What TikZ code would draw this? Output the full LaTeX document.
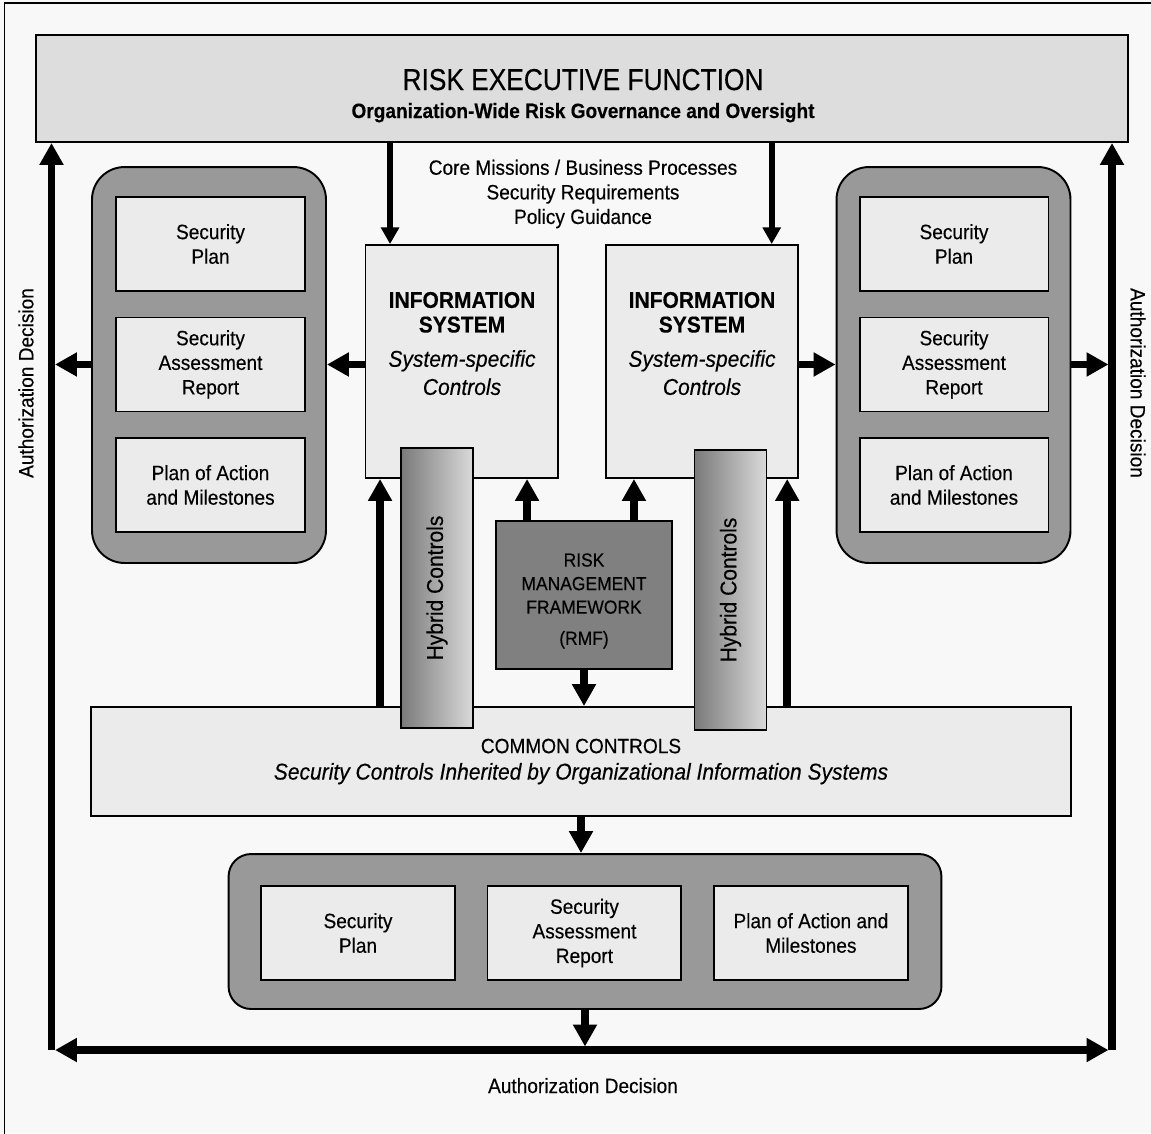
\documentclass[tikz,border=0pt]{standalone}
\usepackage{fontspec}
\setmainfont{Liberation Sans}[FakeStretch=0.92, FakeBold=0.3]
\newfontfamily\titleface{Liberation Sans}[FakeStretch=0.87, FakeBold=0.3]
\usepackage{tikz}
\usetikzlibrary{positioning}
\usetikzlibrary{arrows.meta}

\definecolor{pagebg}{HTML}{F8F8F8}
\definecolor{execgray}{HTML}{DDDDDD}
\definecolor{boxgray}{HTML}{EBEBEB}
\definecolor{groupgray}{HTML}{999999}
\definecolor{rmfgray}{HTML}{808080}
\definecolor{hybriddark}{HTML}{7A7A7A}
\definecolor{hybridlight}{HTML}{DADADA}

\newcommand{\fsTitle}{\titleface\fontsize{17.2}{19}\selectfont}
\newcommand{\fsText}{\fontsize{11.8}{14}\selectfont}
\newcommand{\fsHead}{\fontsize{13}{14}\selectfont}
\newcommand{\fsRmf}{\fontsize{10.8}{13.4}\selectfont}

\tikzset{
  panel/.style={draw=black, line width=1.1pt, fill=boxgray, inner sep=0pt},
  docbox/.style={panel, minimum width=3.78cm, minimum height=1.88cm, align=center, font=\fsText},
  groupbox/.style={draw=black, line width=1.1pt, fill=groupgray, rounded corners=0.65cm, inner sep=0pt},
  hybridbar/.style={draw=black, line width=1.1pt, left color=hybriddark, right color=hybridlight, minimum width=1.44cm, minimum height=5.6cm, inner sep=0pt, font=\fsHead},
  fatarrow/.style={line width=4.3pt, -{Triangle[width=13pt,length=12.5pt]}},
  fatboth/.style={line width=4.3pt, {Triangle[width=13pt,length=12.5pt]}-{Triangle[width=13pt,length=12.5pt]}},
  thinarrow/.style={line width=3.2pt, -{Triangle[width=10pt,length=9.5pt]}}
}

\begin{document}
\begin{tikzpicture}[x=0.02cm, y=-0.02cm, node distance=2.41cm, auto]
            \useasboundingbox (0,0) rectangle (1151,1133);
            \fill[pagebg] (0,0) rectangle (1151,1133);
            \draw[line width=0.8pt] (4.5,1140) -- (4.5,3) -- (1160,3);

            % top
            \node[panel, fill=execgray, minimum width=21.84cm, minimum height=2.14cm] (riskexec) at (582,88.5) {};
            \node[anchor=base, font=\fsTitle] (exectitle) at (583,90) {RISK EXECUTIVE FUNCTION};
            \node[anchor=base, font={\fsText\bfseries}] (execsub) at (583,118) {Organization-Wide Risk Governance and Oversight};
            \node[align=center, font=\fsText] (missions) at (583,194) {Core Missions / Business Processes\\Security Requirements\\Policy Guidance};

            % left and right groups
            \node[groupbox, minimum width=4.68cm, minimum height=7.92cm] (groupL) at (209,365) {};
            \node[docbox] (secplanL) at (210.5,244) {Security\\Plan};
            \node[docbox] (sarL) [below of=secplanL] {Security\\Assessment\\Report};
            \node[docbox] (poamL) [below of=sarL] {Plan of Action\\and Milestones};
            \node[groupbox, minimum width=4.68cm, minimum height=7.92cm] (groupR) at (953.5,365) {};
            \node[docbox] (secplanR) at (954,244) {Security\\Plan};
            \node[docbox] (sarR) [below of=secplanR] {Security\\Assessment\\Report};
            \node[docbox] (poamR) [below of=sarR] {Plan of Action\\and Milestones};

            % information systems
            \node[panel, minimum width=3.85cm, minimum height=4.66cm] (infoL) at (461.75,361.5) {};
            \node[align=center, font=\fsHead] (infoLtext) at (462,343.5) {{\bfseries INFORMATION}\\{\bfseries SYSTEM}\\[5.5pt]{\itshape System-specific}\\[2pt]{\itshape Controls}};
            \node[panel, minimum width=3.85cm, minimum height=4.66cm] (infoR) at (702,361.5) {};
            \node[align=center, font=\fsHead] (infoRtext) at (702,343.5) {{\bfseries INFORMATION}\\{\bfseries SYSTEM}\\[5.5pt]{\itshape System-specific}\\[2pt]{\itshape Controls}};

            % common controls and rmf
            \node[panel, minimum width=19.6cm, minimum height=2.18cm, align=center] (common) at (581,761.5) {{\fsText COMMON CONTROLS}\\[3pt]{\fontsize{13}{14}\selectfont\itshape Security Controls Inherited by Organizational Information Systems}};
            \node[panel, fill=rmfgray, minimum width=3.52cm, minimum height=2.96cm] (rmf) at (584,595) {};
            \node[align=center, font=\fsRmf] (rmftext) at (584,601) {RISK\\MANAGEMENT\\FRAMEWORK\\[4.3pt](RMF)};

            % bottom group
            \node[groupbox, rounded corners=0.45cm, minimum width=14.26cm, minimum height=3.1cm] (groupB) at (585,931.5) {};
            \node[docbox, minimum width=3.88cm] (secplanB) at (358,933) {Security\\Plan};
            \node[docbox, minimum width=3.88cm] (sarB) [right of=secplanB, node distance=4.53cm] {Security\\Assessment\\Report};
            \node[docbox, minimum width=3.88cm] (poamB) [right of=sarB, node distance=4.53cm] {Plan of Action and\\Milestones};

            % authorization decision
            \coordinate (cornerL) at (51.5,1050);
            \coordinate (cornerR) at (1112,1050);
            \node[rotate=90, font=\fsText] (authL) at (26,383) {Authorization Decision};
            \node[rotate=-90, font=\fsText] (authR) at (1138,383) {Authorization Decision};
            \node[anchor=base, font=\fsText] (authB) at (583,1093) {Authorization Decision};

            \coordinate (downL) at ([xshift=0.51cm]infoL.north west);
            \coordinate (downR) at ([xshift=-0.55cm]infoR.north east);
            \coordinate (rmfupL) at ([xshift=0.64cm]rmf.north west);
            \coordinate (rmfupR) at ([xshift=-0.78cm]rmf.north east);
            \coordinate (ccupL) at ([xshift=0.31cm]infoL.south west);
            \coordinate (ccupR) at ([xshift=-0.24cm]infoR.south east);

            \draw[thinarrow] (downL |- riskexec.south) -- (downL);
            \draw[thinarrow] (downR |- riskexec.south) -- (downR);
            \draw[fatarrow] (infoL.west |- sarL) -- (groupL.east |- sarL);
            \draw[fatarrow, shorten >=2pt] (groupL.west |- sarL) -- (cornerL |- sarL);
            \draw[fatarrow] (infoR.east |- sarR) -- (groupR.west |- sarR);
            \draw[fatarrow, shorten >=2pt] (groupR.east |- sarR) -- (cornerR |- sarR);
            \draw[fatarrow] (rmfupL) -- (rmfupL |- infoL.south);
            \draw[fatarrow] (rmfupR) -- (rmfupR |- infoR.south);
            \draw[fatarrow] (ccupL |- common.north) -- (ccupL);
            \draw[fatarrow] (ccupR |- common.north) -- (ccupR);
            \draw[fatarrow] (rmf.south) -- (rmf.south |- common.north);
            \draw[fatarrow] (common.south) -- (common.south |- groupB.north);
            \draw[fatarrow, shorten >=2pt] (groupB.south) -- (groupB.south |- cornerL);
            \draw[fatarrow] (cornerL) -- (cornerL |- riskexec.south);
            \draw[fatarrow] (cornerR) -- (cornerR |- riskexec.south);
            \draw[fatboth, shorten <=2pt, shorten >=2pt] (cornerL) -- (cornerR);

            % hybrid controls
            \node[hybridbar] (hybridL) at (437,588) {\rotatebox{90}{Hybrid Controls}};
            \node[hybridbar] (hybridR) at (730.5,590) {\rotatebox{90}{Hybrid Controls}};
        \end{tikzpicture}
\end{document}
